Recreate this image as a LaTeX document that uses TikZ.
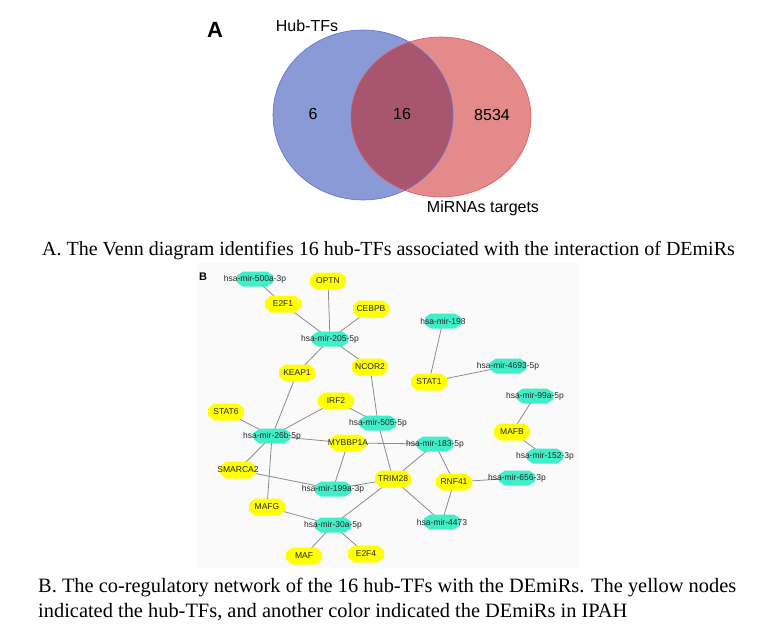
\documentclass[tikz,border=0pt]{standalone}
\usepackage{fontspec}
\setmainfont{Liberation Serif}
\newfontfamily\arialfont{Liberation Sans}
\usetikzlibrary{backgrounds}
\definecolor{vennblue}{HTML}{8A9AD6}
\definecolor{vennblueline}{HTML}{6070CC}
\definecolor{vennred}{HTML}{E48A8A}
\definecolor{vennredline}{HTML}{D85A66}
\definecolor{vennboth}{HTML}{A8566F}
\definecolor{hubyellow}{HTML}{FFFF00}
\definecolor{mircyan}{HTML}{40EEC8}
% octagon of half width 18 round a point
\newcommand{\tfnode}[3]{
	\fill[hubyellow, shift={(#2)}] (-18,-3.5) -- (-12,-8.5) -- (12,-8.5) -- (18,-3.5) -- (18,3.5) -- (12,8.5) -- (-12,8.5) -- (-18,3.5) -- cycle;
	\node[netlabel] (#1) at (#2) {#3};
}
\newcommand{\mirnode}[3]{
	\fill[mircyan, shift={(#2)}] (-18,-3.5) -- (-12,-7.5) -- (12,-7.5) -- (18,-3.5) -- (18,3.5) -- (12,7.5) -- (-12,7.5) -- (-18,3.5) -- cycle;
	\node[netlabel] (#1) at (#2) {#3};
}

\begin{document}
\begin{tikzpicture}[x=1pt,y=-1pt,
	netlabel/.style={font=\arialfont\fontsize{8.5}{10}\selectfont, text=black!85, inner sep=0pt},
	edge/.style={draw=black!45, line width=0.8pt},
	vennnum/.style={font=\arialfont\fontsize{16}{18}\selectfont},
	caption/.style={font=\fontsize{20}{24.5}\selectfont, anchor=base west, inner sep=0pt, align=left}]
	\useasboundingbox (0,0) rectangle (757,637);

	% A: Venn diagram
	\fill[vennblue] (363,115) ellipse [x radius=90pt, y radius=85pt];
	\fill[vennred] (441,117) ellipse [x radius=90pt, y radius=80pt];
	\begin{scope}
	\clip (363,115) ellipse [x radius=90pt, y radius=85pt];
	\fill[vennboth] (441,117) ellipse [x radius=90pt, y radius=80pt];
	\end{scope}
	\draw[vennblueline, line width=0.6pt] (363,115) ellipse [x radius=90pt, y radius=85pt];
	\draw[vennredline, line width=0.6pt] (441,117) ellipse [x radius=90pt, y radius=80pt];

	\node[font=\arialfont\bfseries\fontsize{22}{24}\selectfont] (labA) at (215,30) {A};
	\node[vennnum] (hub) at (307,26) {Hub-TFs};
	\node[vennnum] (only) at (313,114) {6};
	\node[vennnum] (both) at (402,114) {16};
	\node[vennnum] (targ) at (492,115) {8534};
	\node[vennnum] (mirt) at (483,208) {MiRNAs targets};

	\node[caption] (capA) at (42,255) {A. The Venn diagram identifies 16 hub-TFs associated with the interaction of DEmiRs};

	% B: network
	\node[font=\arialfont\bfseries\fontsize{11}{12}\selectfont] (labB) at (203,277) {B};

	\mirnode{m500a}{255,279}{hsa-mir-500a-3p}
	\tfnode{optn}{328,281}{OPTN}
	\tfnode{e2f1}{283,304}{E2F1}
	\tfnode{cebpb}{371,309}{CEBPB}
	\mirnode{m205}{330,339}{hsa-mir-205-5p}
	\mirnode{m198}{443,321}{hsa-mir-198}
	\tfnode{keap1}{297,373}{KEAP1}
	\tfnode{ncor2}{370,367}{NCOR2}
	\tfnode{stat1}{429,382}{STAT1}
	\mirnode{m4693}{508,366}{hsa-mir-4693-5p}
	\tfnode{irf2}{336,401}{IRF2}
	\tfnode{stat6}{226,412}{STAT6}
	\mirnode{m99a}{535,396}{hsa-mir-99a-5p}
	\mirnode{m505}{378,423}{hsa-mir-505-5p}
	\mirnode{m26b}{272,436}{hsa-mir-26b-5p}
	\tfnode{mybbp1a}{348,443}{MYBBP1A}
	\mirnode{m183}{435,444}{hsa-mir-183-5p}
	\tfnode{mafb}{512,432}{MAFB}
	\mirnode{m152}{545,456}{hsa-mir-152-3p}
	\tfnode{smarca2}{238,470}{SMARCA2}
	\tfnode{trim28}{393,479}{TRIM28}
	\tfnode{rnf41}{454,482}{RNF41}
	\mirnode{m656}{517,478}{hsa-mir-656-3p}
	\mirnode{m199a}{333,489}{hsa-mir-199a-3p}
	\tfnode{mafg}{267,507}{MAFG}
	\mirnode{m30a}{333,525}{hsa-mir-30a-5p}
	\mirnode{m4473}{442,522}{hsa-mir-4473}
	\tfnode{maf}{304,556}{MAF}
	\tfnode{e2f4}{366,554}{E2F4}

	\begin{pgfonlayer}{background}
	\fill[black!2] (197,263) rectangle (579,568);
	\foreach \a/\b in {m500a/e2f1, e2f1/m205, optn/m205, cebpb/m205, m205/keap1, m205/ncor2,
		ncor2/m505, m505/trim28, m198/stat1, stat1/m4693, keap1/m26b, irf2/m26b, irf2/m505,
		stat6/m26b, m26b/mybbp1a, mybbp1a/m183, m26b/smarca2, m26b/mafg, mybbp1a/m199a,
		smarca2/m199a, m199a/trim28, trim28/m183, m183/rnf41, trim28/m4473, rnf41/m4473,
		trim28/m30a, mafg/m30a, m30a/maf, m30a/e2f4, rnf41/m656, m99a/mafb, mafb/m152}
		\draw[edge] (\a.center) -- (\b.center);
	\end{pgfonlayer}

	\node[caption, font=\fontsize{20.4}{24.6}\selectfont] (capB) at (38,617.5) {B. The co-regulatory network of the 16 hub-TFs with the DEmiRs. The yellow nodes\\indicated the hub-TFs, and another color indicated the DEmiRs in IPAH};
\end{tikzpicture}
\end{document}
